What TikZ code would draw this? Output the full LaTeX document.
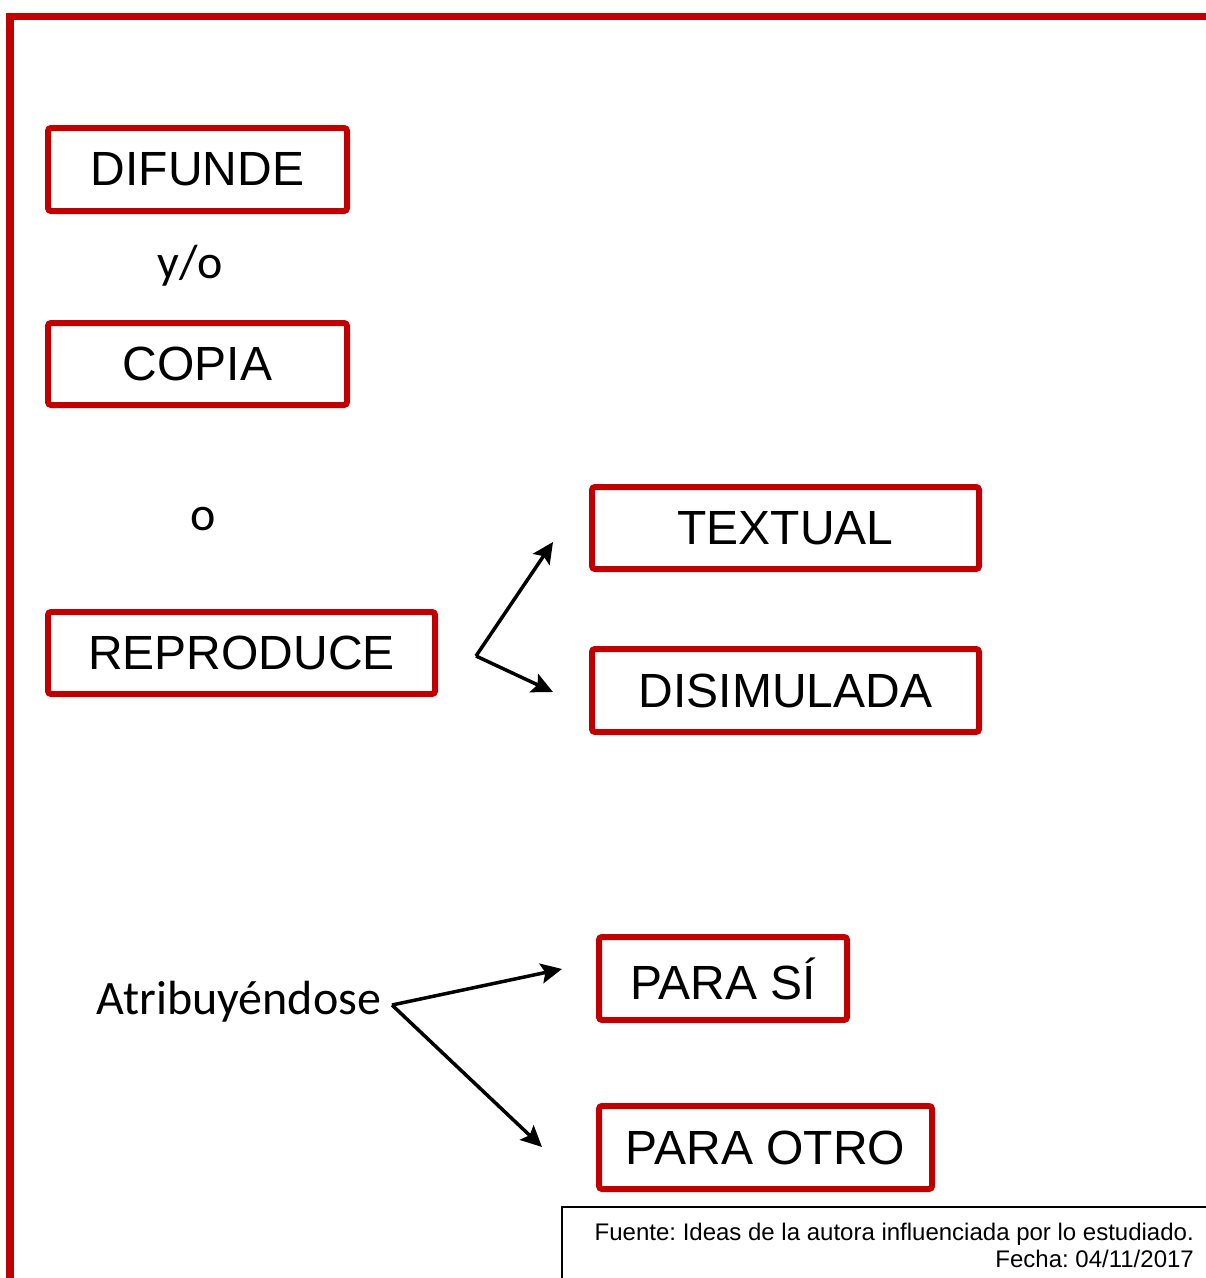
\documentclass[tikz,border=0pt]{standalone}
\usepackage{fontspec}
\setmainfont{Liberation Sans}
\newfontfamily\arialf{Liberation Sans}
\newfontfamily\calib{Carlito}
\usetikzlibrary{arrows.meta}
\definecolor{frame}{RGB}{192,0,0}
\frenchspacing
\tikzset{
  redbox/.style={draw=frame, line width=6pt, rounded corners=3pt, inner sep=0pt,
    font=\arialf\fontsize{48}{56}\selectfont, text=black},
  conn/.style={draw=black, line width=3.5pt, -{Stealth[length=21pt,width=20pt,inset=4pt]}},
  plain/.style={font=\calib\fontsize{48}{56}\selectfont, inner sep=0pt, anchor=base},
  srctext/.style={anchor=base east, inner sep=0pt, font=\arialf\fontsize{24}{29}\selectfont}
}
\begin{document}
\begin{tikzpicture}[x=1pt,y=-1pt]
\useasboundingbox (0,0) rectangle (1206,1278);
% outer frame
\coordinate (fbl) at (10,1282);
\coordinate (ftl) at (10,16.5);
\coordinate (ftr) at (1210,16.5);
\draw[frame, line width=7.5pt] (fbl) -- (ftl) -- (ftr);
% boxes
\node[redbox, minimum width=299pt, minimum height=83pt] (difunde) at (197.5,169.5) {DIFUNDE};
\node[redbox, minimum width=299pt, minimum height=82pt] (copia) at (197.5,364) {COPIA};
\node[redbox, minimum width=387pt, minimum height=82pt] (reproduce) at (241.5,653) {REPRODUCE};
\node[redbox, minimum width=387pt, minimum height=82pt] (textual) at (785.5,528) {TEXTUAL};
\node[redbox, minimum width=387pt, minimum height=83pt] (disimulada) at (785.5,690.5) {DISIMULADA};
\node[redbox, minimum width=248pt, minimum height=83pt] (parasi) at (723,978.5) {PARA SÍ};
\node[redbox, minimum width=333pt, minimum height=83pt] (paraotro) at (765.5,1147.5) {PARA OTRO};
% connector words
\node[plain] (yo) at (190,278) {y/o};
\node[plain] (o) at (203,530) {o};
\node[plain] (atrib) at (239,1014) {Atribuyéndose};
% arrows
\coordinate (rsplit) at (476,656);
\coordinate (tend) at (553,542);
\coordinate (dend) at (553,692);
\draw[conn] (rsplit) -- (tend);
\draw[conn] (rsplit) -- (dend);
\coordinate (asplit) at (392,1005);
\coordinate (send) at (562,969);
\coordinate (oend) at (542,1147);
\draw[conn] (asplit) -- (send);
\draw[conn] (asplit) -- (oend);
% source box
\coordinate (sbl) at (562,1282);
\coordinate (stl) at (562,1207);
\coordinate (str) at (1210,1207);
\draw[black, line width=2pt] (sbl) -- (stl) -- (str);
\node[srctext] (fuente) at (1194,1240)
  {Fuente: Ideas de la autora influenciada por lo estudiado.};
\node[srctext] (fecha) at (1194,1267)
  {Fecha: 04/11/2017};
\end{tikzpicture}
\end{document}
